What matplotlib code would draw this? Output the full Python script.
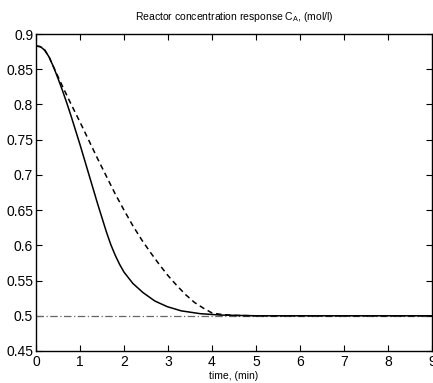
import numpy as np
import matplotlib
matplotlib.use("Agg")
import matplotlib.pyplot as plt

plt.rcParams['font.family'] = ['Liberation Sans', 'DejaVu Sans']
plt.rcParams['mathtext.fontset'] = 'custom'
plt.rcParams['mathtext.rm'] = 'Liberation Sans'

# Solid response
t_solid = [0.0, 0.1, 0.2, 0.3, 0.4, 0.5, 0.6, 0.7, 0.8, 0.9, 1.0, 1.1, 1.2,
           1.3, 1.4, 1.5, 1.6, 1.7, 1.8, 1.9, 2.0, 2.2, 2.43, 2.7, 2.98,
           3.3, 3.73, 4.2, 5.0, 9.0]
ca_solid = [0.883, 0.882, 0.877, 0.867, 0.853, 0.837, 0.82, 0.802, 0.783,
            0.763, 0.743, 0.722, 0.701, 0.68, 0.659, 0.639, 0.619, 0.601,
            0.586, 0.573, 0.562, 0.546, 0.533, 0.521, 0.513, 0.507, 0.503,
            0.501, 0.5, 0.5]

# Dashed response
t_dash = [0.0, 0.1, 0.2, 0.3, 0.4, 0.6, 0.8, 1.0, 1.2, 1.4, 1.6, 1.8, 2.0,
          2.2, 2.4, 2.6, 2.8, 3.0, 3.2, 3.4, 3.6, 3.8, 4.0, 4.2, 4.5, 5.0, 9.0]
ca_dash = [0.883, 0.882, 0.877, 0.867, 0.853, 0.826, 0.8, 0.775, 0.749,
           0.723, 0.698, 0.673, 0.65, 0.628, 0.608, 0.59, 0.573, 0.557,
           0.543, 0.53, 0.519, 0.511, 0.504, 0.502, 0.5005, 0.5, 0.5]

# Setpoint
setpoint = 0.5

xticks = list(range(0, 10))
yticks = [0.45, 0.5, 0.55, 0.6, 0.65, 0.7, 0.75, 0.8, 0.85, 0.9]
yticklabels = ['0.45', '0.5', '0.55', '0.6', '0.65', '0.7', '0.75', '0.8',
               '0.85', '0.9']

fig = plt.figure(figsize=(4.33, 3.83), dpi=100)
ax = fig.add_axes([36 / 433, 1 - 351 / 383, 396 / 433, 317 / 383])

ax.plot([0, 9], [setpoint, setpoint], color='0.4', lw=0.9, ls='-.',
        dashes=(6, 2, 1, 2))
ax.plot(t_dash, ca_dash, color='black', lw=1.1, ls='--', dashes=(3.5, 2.5))
ax.plot(t_solid, ca_solid, color='black', lw=1.1)

ax.set_xlim(0, 9)
ax.set_ylim(0.45, 0.9)
ax.set_xticks(xticks)
ax.set_yticks(yticks)
ax.set_yticklabels(yticklabels)
ax.tick_params(direction='in', length=4, top=True, right=True,
               labelsize=10, width=0.8)
ax.tick_params(axis='x', pad=3)
ax.tick_params(axis='y', pad=2)
for s in ax.spines.values():
    s.set_linewidth(1.0)

ax.set_title(r'Reactor concentration response C$_\mathrm{A}$, (mol/l)',
             fontsize=7.5, pad=10)
ax.set_xlabel('time, (min)', fontsize=7.5, labelpad=1)

fig.savefig('out.png', dpi=100)
